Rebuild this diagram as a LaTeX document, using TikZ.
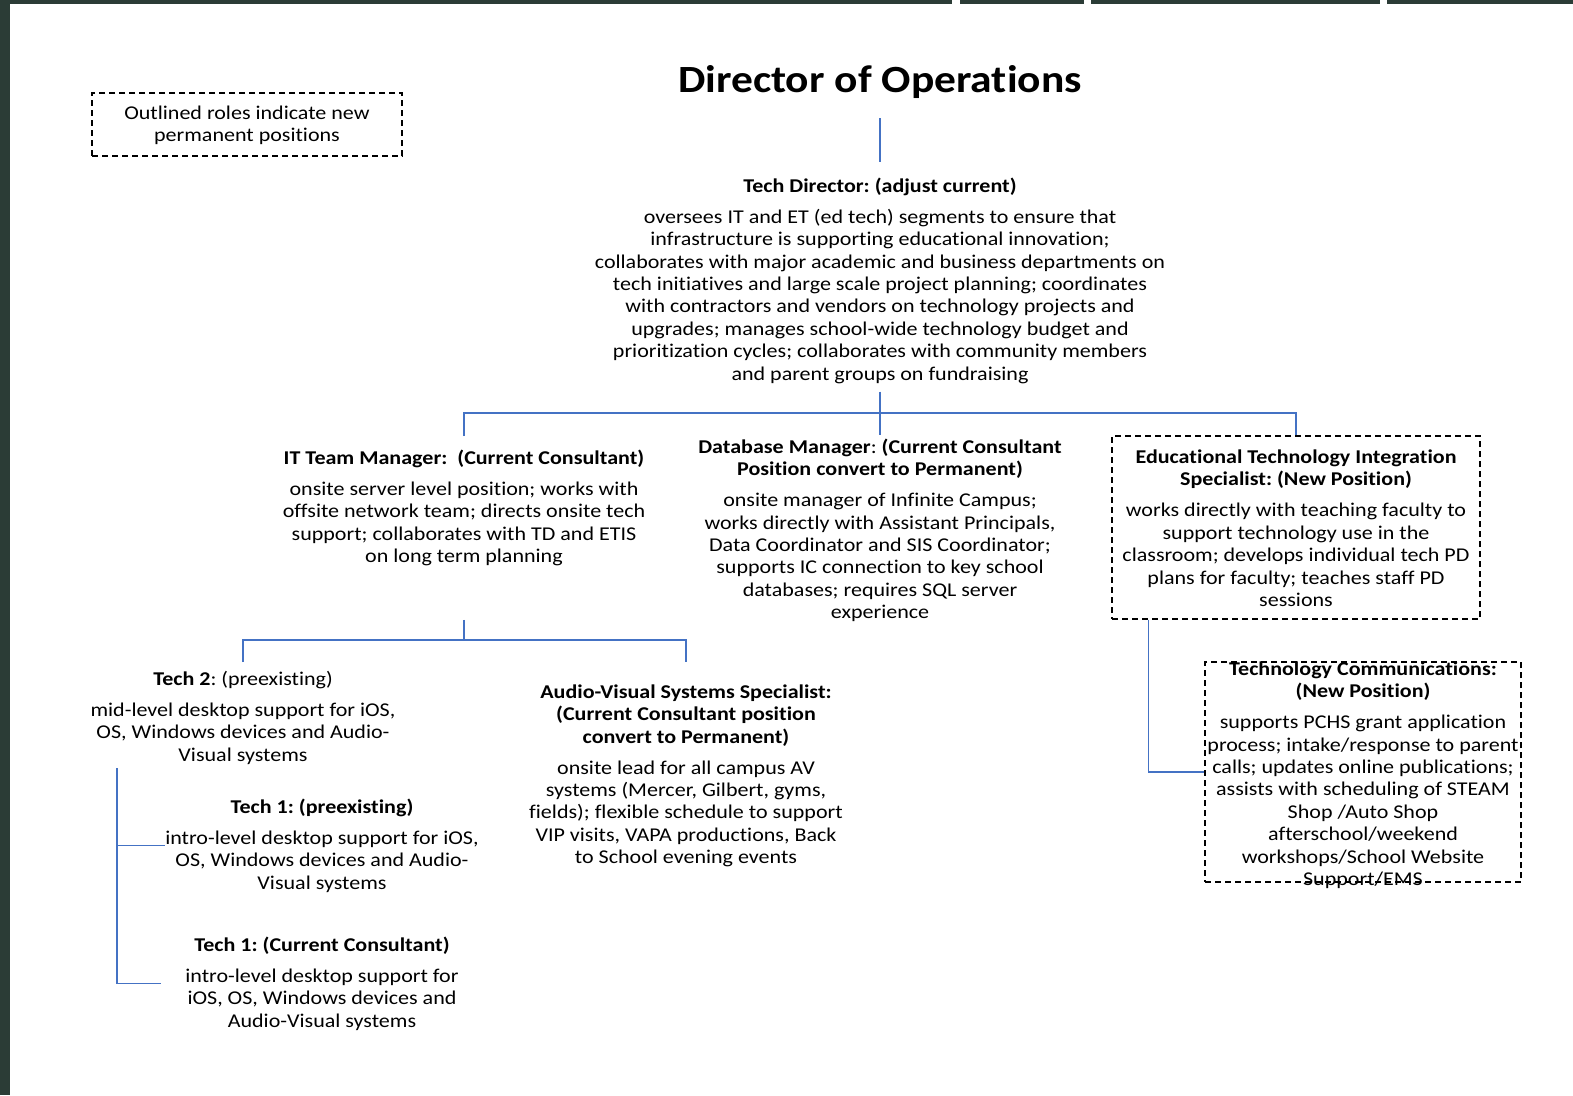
\documentclass[tikz,border=0pt]{standalone}
\usepackage{fontspec}
\setmainfont{Carlito}[FakeStretch=1.13, Ligatures=NoCommon]
\usetikzlibrary{calc}
\definecolor{framegreen}{RGB}{43,60,54}
\definecolor{lineblue}{RGB}{68,114,196}
\newcommand\mystrut{\rule{0pt}{15pt}}
\frenchspacing
\begin{document}
\begin{tikzpicture}[x=1pt,y=-1pt,
  txt/.style={align=center, inner sep=0pt, anchor=north, font=\frenchspacing\fontsize{19.5}{22.4}\selectfont},
  link/.style={draw=lineblue, line width=1.3pt},
  newbox/.style={draw=black, dash pattern=on 6pt off 4pt, line width=1.1pt}
]
\useasboundingbox (0,0) rectangle (1573,1095);
\fill[white] (0,0) rectangle (1573,1095);
% frame strips
\fill[framegreen] (0,0) rectangle (10,1095);
\fill[framegreen] (0,0) rectangle (952,4);
\fill[framegreen] (960,0) rectangle (1084,4);
\fill[framegreen] (1091,0) rectangle (1380,4);
\fill[framegreen] (1387,0) rectangle (1573,4);

% legend
\node[txt, newbox, anchor=center, minimum width=310pt, minimum height=63pt] (legend) at (247,124.5)
  {\mystrut Outlined roles indicate new\\permanent positions};

% title
\node[txt, anchor=base, font=\bfseries\fontsize{38.5}{42}\selectfont] (dir) at (880,92) {Director of Operations};

% tech director
\node[txt] (td) at (880,177) {\mystrut\textbf{Tech Director: (adjust current)}\\[8.6pt]
oversees IT and ET (ed tech) segments to ensure that\\
infrastructure is supporting educational innovation;\\
collaborates with major academic and business departments on\\
tech initiatives and large scale project planning; coordinates\\
with contractors and vendors on technology projects and\\
upgrades; manages school-wide technology budget and\\
prioritization cycles; collaborates with community members\\
and parent groups on fundraising};

% IT team manager
\node[txt] (itm) at (464,449) {\mystrut\textbf{IT Team Manager:~ (Current Consultant)}\\[8.6pt]
onsite server level position; works with\\
offsite network team; directs onsite tech\\
support; collaborates with TD and ETIS\\
on long term planning};

% database manager
\node[txt] (dbm) at (880,438) {\mystrut\textbf{Database Manager}: \textbf{(Current Consultant}\\
\textbf{Position convert to Permanent)}\\[8.6pt]
onsite manager of Infinite Campus;\\
works directly with Assistant Principals,\\
Data Coordinator and SIS Coordinator;\\
supports IC connection to key school\\
databases; requires SQL server\\
experience};

% ETIS
\node[txt, newbox, anchor=center, minimum width=368pt, minimum height=183pt] (etis) at (1296,527.5)
{\mystrut\textbf{Educational Technology Integration}\\
\textbf{Specialist: (New Position)}\\[8.6pt]
works directly with teaching faculty to\\
support technology use in the\\
classroom; develops individual tech PD\\
plans for faculty; teaches staff PD\\
sessions};

% Technology communications
\node[newbox, minimum width=316pt, minimum height=220pt, inner sep=0pt] (tcbox) at (1363,772) {};
\node[txt] (tcomms) at (1363,660) {\mystrut\textbf{Technology Communications:}\\
\textbf{(New Position)}\\[8.6pt]
supports PCHS grant application\\
process; intake/response to parent\\
calls; updates online publications;\\
assists with scheduling of STEAM\\
Shop /Auto Shop\\
afterschool/weekend\\
workshops/School Website\\
Support/EMS};

% Tech 2
\node[txt] (t2) at (243,670) {\mystrut\textbf{Tech 2}: (preexisting)\\[8.6pt]
mid-level desktop support for iOS,\\
OS, Windows devices and Audio-\\
Visual systems};

% AV
\node[txt] (av) at (686,683) {\mystrut\textbf{Audio-Visual Systems Specialist:}\\
\textbf{(Current Consultant position}\\
\textbf{convert to Permanent)}\\[8.6pt]
onsite lead for all campus AV\\
systems (Mercer, Gilbert, gyms,\\
fields); flexible schedule to support\\
VIP visits, VAPA productions, Back\\
to School evening events};

% Tech 1 preexisting
\node[txt] (t1a) at (322,798) {\mystrut\textbf{Tech 1: (preexisting)}\\[8.6pt]
intro-level desktop support for iOS,\\
OS, Windows devices and Audio-\\
Visual systems};

% Tech 1 consultant
\node[txt] (t1b) at (322,936) {\mystrut\textbf{Tech 1: (Current Consultant)}\\[8.6pt]
intro-level desktop support for\\
iOS, OS, Windows devices and\\
Audio-Visual systems};

% connectors
\coordinate (bus) at (880,413);
\coordinate (itbus) at (464,640);
\coordinate (tbranch) at (117,768);
\draw[link] ([yshift=-20pt]dir.south) -- ([yshift=15pt]td.north);
\draw[link] ([yshift=-8pt]td.south) -- ([yshift=3pt]dbm.north);
\draw[link] ([yshift=13pt]itm.north) |- (bus) -| (etis.north);
\draw[link] ([yshift=-54pt]itm.south) -- (itbus);
\draw[link] ([yshift=8pt]t2.north) |- (itbus) -| ([yshift=21pt]av.north);
\draw[link] (tbranch) |- (t1a.west);
\draw[link] (tbranch) |- ([xshift=-24pt]t1b.west);
\draw[link] ([xshift=37pt]etis.south west) |- (tcbox.west);
\end{tikzpicture}
\end{document}
